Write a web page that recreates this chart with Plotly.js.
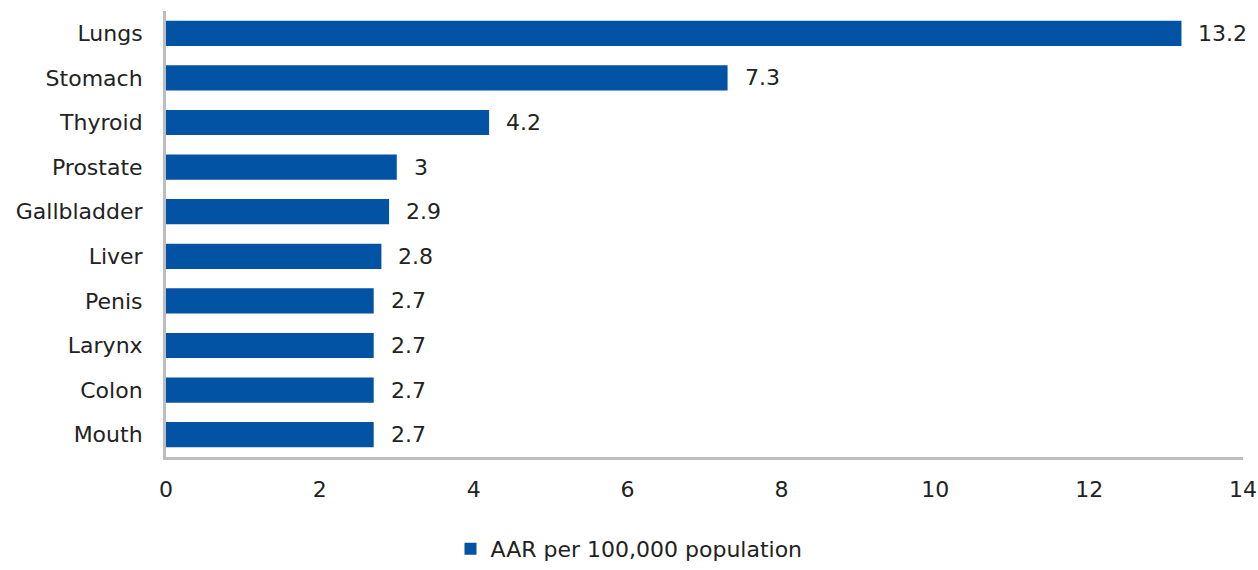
<!DOCTYPE html>
<html>
<head>
<meta charset="utf-8">
<script src="https://cdn.plot.ly/plotly-3.0.1.min.js"></script>
<style>html,body{margin:0;padding:0;background:#fff;}#chart{width:1258px;height:570px;}</style>
</head>
<body>
<div id="chart"></div>
<script>
const categories = ["Lungs", "Stomach", "Thyroid", "Prostate", "Gallbladder", "Liver", "Penis", "Larynx", "Colon", "Mouth"];
const values = [13.2, 7.3, 4.2, 3, 2.9, 2.8, 2.7, 2.7, 2.7, 2.7];
const seriesName = "AAR per 100,000 population";
const xTicks = [0, 2, 4, 6, 8, 10, 12, 14];

const FONT = "DejaVu Sans, Noto Sans, sans-serif";
const TXT = "#222222";
const FS = 22;

const trace = {
  type: "bar",
  orientation: "h",
  x: values,
  y: categories,
  name: seriesName,
  marker: {color: "#0353a4"},
  showlegend: true,
  hoverinfo: "x+y"
};

const annotations = values.map((v, i) => ({
  x: v, y: categories[i], xref: "x", yref: "y",
  text: String(v), showarrow: false, xanchor: "left", xshift: 15,
  font: {family: FONT, size: FS, color: TXT}
}));

const layout = {
  width: 1258, height: 570,
  margin: {l: 166, r: 15, t: 11, b: 113},
  paper_bgcolor: "#fff", plot_bgcolor: "#fff",
  font: {family: FONT, size: FS, color: TXT},
  bargap: 0.435,
  xaxis: {
    range: [0, 14], tickvals: xTicks, showgrid: false, zeroline: false,
    showline: true, linecolor: "#bdbdc1", linewidth: 3,
    ticks: "", ticklabelstandoff: 11,
    tickfont: {family: FONT, size: FS, color: TXT}
  },
  yaxis: {
    autorange: "reversed", showgrid: false, zeroline: false,
    showline: true, linecolor: "#bdbdc1", linewidth: 3,
    ticks: "", ticklabelstandoff: 16,
    tickfont: {family: FONT, size: FS, color: TXT}
  },
  showlegend: true,
  legend: {
    orientation: "h", xref: "container", yref: "container",
    x: 0.5, xanchor: "center", y: 0.0, yanchor: "bottom",
    font: {family: FONT, size: FS, color: TXT},
    itemwidth: 30
  },
  annotations: annotations
};

Plotly.newPlot("chart", [trace], layout, {displayModeBar: false, staticPlot: true});
</script>
</body>
</html>
